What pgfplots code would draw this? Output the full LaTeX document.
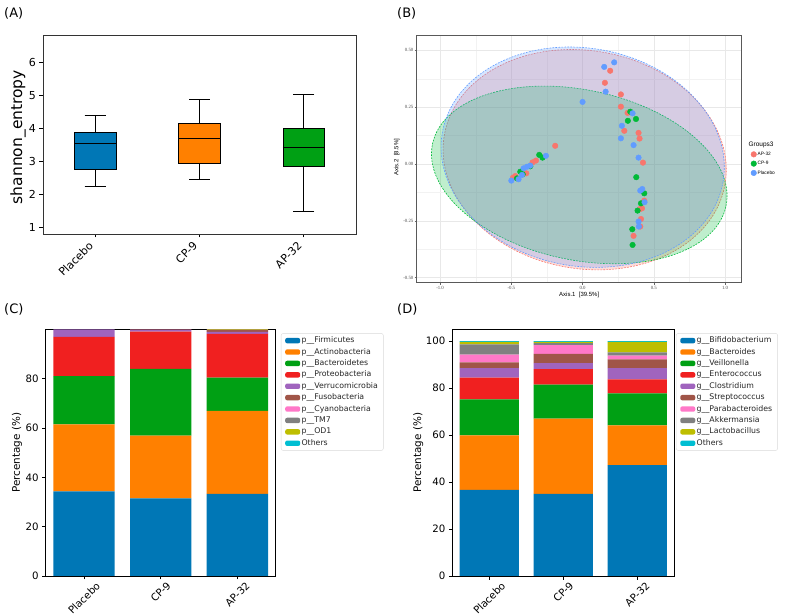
\documentclass[border=0pt]{standalone}
\usepackage{fontspec}
\setmainfont{DejaVu Sans}
\newfontfamily\serifB{Liberation Serif}
\newfontfamily\sansB{Liberation Sans}
\usepackage{pgfplots}
\pgfplotsset{compat=1.18}
\usepgfplotslibrary{statistics}
\pgfplotsset{/pgf/number format/assume math mode=true}
\definecolor{cBlue}{RGB}{0,119,182}
\definecolor{cOrange}{RGB}{255,128,0}
\definecolor{cGreen}{RGB}{0,160,20}
\definecolor{cRed}{RGB}{240,32,32}
\definecolor{cPurple}{RGB}{160,100,190}
\definecolor{cBrown}{RGB}{160,85,72}
\definecolor{cPink}{RGB}{255,120,200}
\definecolor{cGray}{RGB}{128,128,128}
\definecolor{cOlive}{RGB}{190,190,0}
\definecolor{cCyan}{RGB}{0,190,210}
\definecolor{gAP}{RGB}{248,118,109}
\definecolor{gCP}{RGB}{0,186,56}
\definecolor{gPL}{RGB}{97,156,255}
\pgfplotsset{
  mplbar/.style={
    scale only axis, ybar stacked, bar width=0.8,
    xmin=-0.5, xmax=2.5, ymin=0,
    xtick={0,1,2},
    xticklabels={{\rotatebox{45}{Placebo}},{\rotatebox{45}{CP-9}},{\rotatebox{45}{AP-32}}},
    xticklabel style={anchor=north, inner sep=0.5pt, yshift=-1pt},
    tick align=outside, tick pos=left, major tick length=3.5pt,
    tick style={black, line width=0.7pt},
    axis line style={black, line width=0.8pt},
    ticklabel style={font=\fontsize{10.2}{12}\selectfont},
    ylabel={Percentage (\%)},
    ylabel style={font=\fontsize{10.4}{12}\selectfont, anchor=center},
    legend cell align=left,
    legend image code/.code={\fill[##1] (0pt,-2.7pt) rectangle (15pt,2.7pt);},
    legend style={anchor=north west, draw=black!15, rounded corners=2pt,
      font=\fontsize{7.8}{9}\selectfont, text=black!85,
      nodes={inner sep=1.4pt, text height=5.8pt, text depth=1.8pt},
      row sep=1pt, inner xsep=4pt, inner ysep=2pt},
  },
}
\begin{document}
\begin{tikzpicture}[x=1pt,y=1pt]
\useasboundingbox (0,0) rectangle (785,616);
\node[anchor=west, font=\fontsize{13}{15}\selectfont, inner sep=0pt] at (4,602.7) {(A)};
\node[anchor=west, font=\fontsize{13}{15}\selectfont, inner sep=0pt] at (397,602.7) {(B)};
\node[anchor=west, font=\fontsize{13}{15}\selectfont, inner sep=0pt] at (4,307) {(C)};
\node[anchor=west, font=\fontsize{13}{15}\selectfont, inner sep=0pt] at (397,307) {(D)};

% ---------------- Panel A ----------------
\begin{axis}[at={(43pt,382pt)}, anchor=south west, scale only axis,
  width=313pt, height=199pt,
  xmin=0.5, xmax=3.5, ymin=0.81, ymax=6.84,
  xtick={1,2,3},
  xticklabels={{\rotatebox{45}{Placebo}},{\rotatebox{45}{CP-9}},{\rotatebox{45}{AP-32}}},
  xticklabel style={anchor=north east, inner sep=1pt, yshift=-2pt},
  ytick={1,2,3,4,5,6},
  tick align=outside, tick pos=left, major tick length=3.5pt,
  tick style={black, line width=0.7pt},
  axis line style={black!80, line width=0.8pt},
  ticklabel style={font=\fontsize{11}{13}\selectfont},
  ylabel={shannon\_entropy},
  ylabel style={font=\fontsize{15.5}{18}\selectfont, at={(axis description cs:-0.08,0.487)}, anchor=center},
  boxplot/draw direction=y,
]
\addplot[boxplot prepared={draw position=1, lower whisker=2.25, lower quartile=2.78, median=3.55, upper quartile=3.88, upper whisker=4.40, box extend=0.4, whisker extend=0.2}, draw=black, fill=cBlue, line width=0.8pt] coordinates {};
\addplot[boxplot prepared={draw position=2, lower whisker=2.45, lower quartile=2.95, median=3.70, upper quartile=4.15, upper whisker=4.88, box extend=0.4, whisker extend=0.2}, draw=black, fill=cOrange, line width=0.8pt] coordinates {};
\addplot[boxplot prepared={draw position=3, lower whisker=1.48, lower quartile=2.86, median=3.42, upper quartile=4.00, upper whisker=5.05, box extend=0.4, whisker extend=0.2}, draw=black, fill=cGreen, line width=0.8pt] coordinates {};
\end{axis}

% ---------------- Panel B ----------------
\begin{axis}[at={(416.7pt,333.3pt)}, anchor=south west, scale only axis,
  width=325pt, height=247.4pt,
  xmin=-1.164, xmax=1.117, ymin=-0.522, ymax=0.566,
  xtick={-1,-0.5,0,0.5,1}, xticklabels={-1.0,-0.5,0.0,0.5,1.0},
  ytick={-0.5,-0.25,0,0.25,0.5}, yticklabels={-0.50,-0.25,0.00,0.25,0.50},
  minor xtick={-0.75,-0.25,0.25,0.75},
  minor ytick={-0.375,-0.125,0.125,0.375},
  grid=both,
  major grid style={black!9, line width=0.55pt},
  minor grid style={black!5, line width=0.3pt},
  tick align=outside, tick pos=left, major tick length=2pt, minor tick length=0pt,
  tick style={black!60, line width=0.4pt},
  axis line style={black!65, line width=0.5pt},
  ticklabel style={font=\serifB\fontsize{4.8}{5}\selectfont, text=black!70, inner sep=1.2pt},
  xlabel={Axis.1\ \ [39.5\%]}, ylabel={Axis.2\ \ [8.5\%]},
  xlabel style={font=\sansB\fontsize{6}{7}\selectfont, at={(axis description cs:0.5,-0.05)}, anchor=center},
  ylabel style={font=\sansB\fontsize{6}{7}\selectfont, at={(axis description cs:-0.061,0.507)}, anchor=center},
  legend style={at={(axis description cs:1.018,0.5)}, anchor=west, draw=none, fill=none,
    font=\sansB\fontsize{4.8}{5.5}\selectfont,
    nodes={inner sep=1pt, text height=3.5pt, text depth=1pt}, row sep=2.8pt},
  legend cell align=left,
  legend image code/.code={\draw[mark repeat=2,mark phase=2,#1] plot coordinates {(0pt,0pt) (3pt,0pt) (6pt,0pt)};},
]
\addlegendimage{empty legend}
\addlegendentry{\hspace*{-9pt}\fontsize{6.5}{7}\selectfont Groups3}
\addplot[only marks, mark=*, mark size=2.8pt, color=gAP, mark options={draw=none, fill=gAP}] coordinates {
(0.194,0.410) (0.157,0.357) (0.269,0.306) (0.269,0.252) (0.316,0.225) (0.293,0.146)
(0.393,0.137) (0.400,0.112) (0.424,0.006) (0.433,-0.161) (0.417,-0.195) (0.403,-0.198)
(0.410,-0.242) (0.405,-0.275) (0.358,-0.316) (-0.192,0.080) (-0.327,0.015) (-0.351,0.007)
(-0.395,-0.041) (-0.472,-0.053) (-0.488,-0.060)};
\addlegendentry{AP-32}
\addplot[only marks, mark=*, mark size=2.8pt, color=gCP, mark options={draw=none, fill=gCP}] coordinates {
(0.335,0.230) (0.318,0.190) (0.375,0.198) (0.377,-0.058) (0.433,-0.129) (0.410,-0.173)
(0.386,-0.205) (0.349,-0.287) (0.351,-0.356) (-0.304,0.040) (-0.281,0.028) (-0.437,-0.034)
(-0.460,-0.063) (-0.420,-0.045) (-0.367,-0.010)};
\addlegendentry{CP-9}
\addplot[only marks, mark=*, mark size=2.8pt, color=gPL, mark options={draw=none, fill=gPL}] coordinates {
(0.152,0.427) (0.222,0.447) (0.162,0.318) (0.000,0.273) (0.351,0.223) (0.276,0.168)
(0.269,0.113) (0.358,0.083) (0.393,0.028) (0.419,-0.110) (0.405,-0.117) (0.435,-0.168)
(0.393,-0.253) (0.395,-0.275) (-0.257,0.036) (-0.367,-0.007) (-0.390,-0.012) (-0.414,-0.019)
(-0.425,-0.048) (-0.500,-0.073) (-0.449,-0.067)};
\addlegendentry{Placebo}
\draw[gAP, dash pattern=on 1.8pt off 1.2pt, line width=0.6pt, fill=gAP, fill opacity=0.25, rotate around={-10:(axis cs:0.015,0.019)}] (axis cs:0.015,0.019) ellipse [x radius=142.5pt, y radius=109pt];
\draw[gCP, dash pattern=on 1.8pt off 1.2pt, line width=0.6pt, fill=gCP, fill opacity=0.25, rotate around={-12:(axis cs:-0.023,-0.048)}] (axis cs:-0.023,-0.048) ellipse [x radius=150pt, y radius=85pt];
\draw[gPL, dash pattern=on 1.8pt off 1.2pt, line width=0.6pt, fill=gPL, fill opacity=0.25, rotate around={-10:(axis cs:0.001,0.030)}] (axis cs:0.001,0.030) ellipse [x radius=142.5pt, y radius=109pt];
\end{axis}

% ---------------- Panel C ----------------
\begin{axis}[mplbar, at={(45.7pt,40pt)}, anchor=south west,
  width=230pt, height=246.7pt, ymax=100, ytick={0,20,40,60,80},
  ylabel style={at={(axis description cs:-0.125,0.5)}},
  legend style={at={(axis description cs:1.023,0.984)}},
]
\addplot[fill=cBlue, draw=none] coordinates {(0,34.3) (1,31.5) (2,33.3)};
\addplot[fill=cOrange, draw=none] coordinates {(0,27.2) (1,25.4) (2,33.6)};
\addplot[fill=cGreen, draw=none] coordinates {(0,19.5) (1,27.1) (2,13.5)};
\addplot[fill=cRed, draw=none] coordinates {(0,15.9) (1,15.1) (2,17.7)};
\addplot[fill=cPurple, draw=none] coordinates {(0,3.1) (1,0.7) (2,0.9)};
\addplot[fill=cBrown, draw=none] coordinates {(0,0.0) (1,0.1) (2,0.7)};
\addplot[fill=cPink, draw=none] coordinates {(0,0.0) (1,0.05) (2,0.1)};
\addplot[fill=cGray, draw=none] coordinates {(0,0.0) (1,0.05) (2,0.1)};
\addplot[fill=cOlive, draw=none] coordinates {(0,0.0) (1,0.0) (2,0.05)};
\addplot[fill=cCyan, draw=none] coordinates {(0,0.0) (1,0.0) (2,0.05)};
\legend{p\_\_Firmicutes, p\_\_Actinobacteria, p\_\_Bacteroidetes, p\_\_Proteobacteria, p\_\_Verrucomicrobia, p\_\_Fusobacteria, p\_\_Cyanobacteria, p\_\_TM7, p\_\_OD1, Others}
\end{axis}

% ---------------- Panel D ----------------
\begin{axis}[mplbar, at={(452.3pt,40pt)}, anchor=south west,
  width=222pt, height=246.7pt, ymax=105, ytick={0,20,40,60,80,100},
  ylabel style={at={(axis description cs:-0.153,0.5)}},
  legend style={at={(axis description cs:1.008,0.984)}},
]
\addplot[fill=cBlue, draw=none] coordinates {(0,36.7) (1,35.0) (2,47.2)};
\addplot[fill=cOrange, draw=none] coordinates {(0,23.2) (1,32.0) (2,16.9)};
\addplot[fill=cGreen, draw=none] coordinates {(0,15.3) (1,14.4) (2,13.6)};
\addplot[fill=cRed, draw=none] coordinates {(0,9.2) (1,6.7) (2,6.0)};
\addplot[fill=cPurple, draw=none] coordinates {(0,4.1) (1,2.5) (2,4.8)};
\addplot[fill=cBrown, draw=none] coordinates {(0,2.4) (1,3.9) (2,3.7)};
\addplot[fill=cPink, draw=none] coordinates {(0,3.3) (1,3.8) (2,1.6)};
\addplot[fill=cGray, draw=none] coordinates {(0,4.4) (1,0.8) (2,1.4)};
\addplot[fill=cOlive, draw=none] coordinates {(0,1.0) (1,0.5) (2,4.4)};
\addplot[fill=cCyan, draw=none] coordinates {(0,0.4) (1,0.4) (2,0.4)};
\legend{g\_\_Bifidobacterium, g\_\_Bacteroides, g\_\_Veillonella, g\_\_Enterococcus, g\_\_Clostridium, g\_\_Streptococcus, g\_\_Parabacteroides, g\_\_Akkermansia, g\_\_Lactobacillus, Others}
\end{axis}
\end{tikzpicture}
\end{document}
